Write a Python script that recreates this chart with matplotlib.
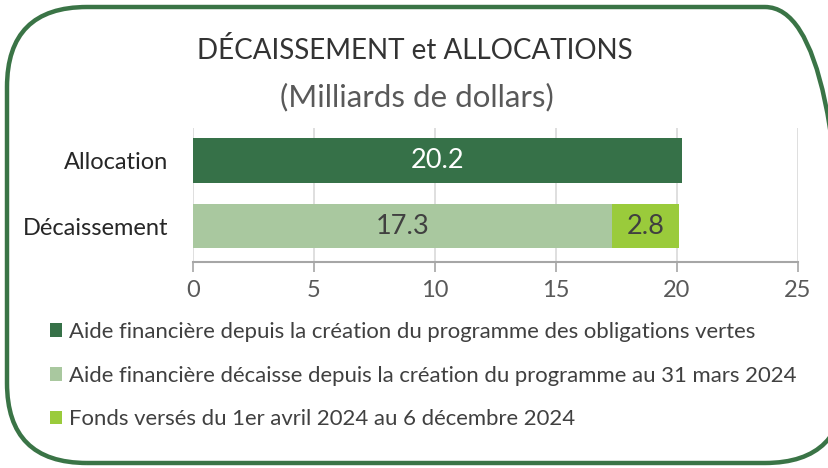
import matplotlib.pyplot as plt
from matplotlib.patches import FancyBboxPatch

plt.rcParams['font.family'] = ['Lato', 'DejaVu Sans']

# data
categories = ["Décaissement", "Allocation"]
allocation = [0, 20.2]
disbursed = [17.3, 0]
recent = [2.8, 0]
legend_labels = [
    "Aide financière depuis la création du programme des obligations vertes",
    "Aide financière décaisse depuis la création du programme au 31 mars 2024",
    "Fonds versés du 1er avril 2024 au 6 décembre 2024",
]
ticks = [0, 5, 10, 15, 20, 25]

dark = "#367148"
light = "#A9C89F"
lime = "#9ACB3B"

fig = plt.figure(figsize=(8.29, 4.68), dpi=100)
ax = fig.add_axes([0.2328, 0.440, 0.7298, 0.2865])

y = [0, 1]
h = 0.68
b1 = ax.barh(y, allocation, height=h, color=dark, zorder=3)
b2 = ax.barh(y, disbursed, height=h, color=light, zorder=3)
b3 = ax.barh(y, recent, left=disbursed, height=h, color=lime, zorder=3)

ax.text(allocation[1] / 2, 1, f"{allocation[1]:.1f}", ha='center', va='center',
        fontsize=19.5, color='white', zorder=4)
ax.text(disbursed[0] / 2, 0, f"{disbursed[0]:.1f}", ha='center', va='center',
        fontsize=19.5, color='#404040', zorder=4)
ax.text(disbursed[0] + recent[0] / 2, 0, f"{recent[0]:.1f}", ha='center', va='center',
        fontsize=19.5, color='#404040', zorder=4)

ax.set_xlim(0, 25)
ax.set_ylim(-0.55, 1.5)
ax.set_xticks(ticks)
ax.set_yticks(y)
ax.set_yticklabels(categories, fontsize=17, color='#262626')
ax.tick_params(axis='y', length=0, pad=18)
ax.tick_params(axis='x', length=7, width=1.2, color='#A6A6A6', labelsize=17,
               labelcolor='#595959', pad=6)
ax.grid(axis='x', color='#D9D9D9', linewidth=1.2, zorder=0)
for s in ['top', 'right', 'left']:
    ax.spines[s].set_visible(False)
ax.spines['bottom'].set_color('#A6A6A6')
ax.spines['bottom'].set_linewidth(1.5)

fig.text(0.5, 0.893, "DÉCAISSEMENT et ALLOCATIONS", ha='center', va='center',
         fontsize=20, color='#333333')
fig.text(0.503, 0.793, "(Milliards de dollars)", ha='center', va='center',
         fontsize=22.5, color='#595959')

leg = fig.legend([b1, b2, b3], legend_labels, loc='upper left',
                 bbox_to_anchor=(0.06, 0.312), frameon=False,
                 prop={'size': 15.9},
                 handlelength=0.57, handleheight=0.57, handletextpad=0.3,
                 labelspacing=1.07, borderaxespad=0, borderpad=0)
for t in leg.get_texts():
    t.set_color('#404040')

frame = FancyBboxPatch((0.07, 0.05), 8.38, 4.56,
                       boxstyle="round,pad=0,rounding_size=0.8",
                       transform=fig.dpi_scale_trans, fill=False,
                       edgecolor='#3A7446', linewidth=3.2, clip_on=False)
fig.patches.append(frame)

fig.savefig("out.png", dpi=100)
